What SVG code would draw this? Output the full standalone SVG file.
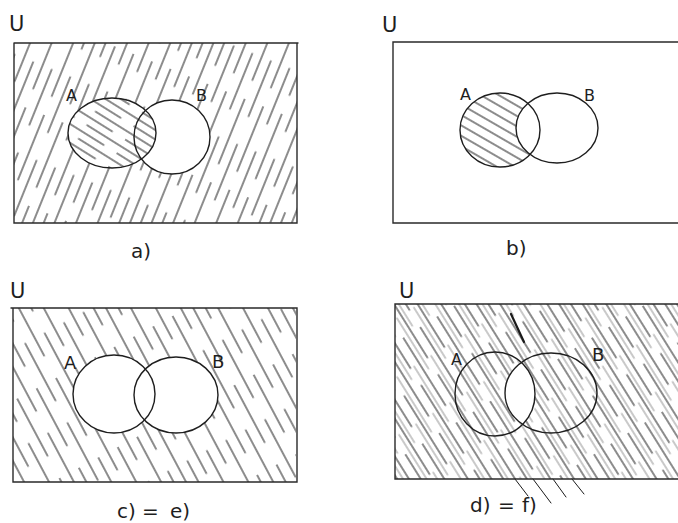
<svg xmlns="http://www.w3.org/2000/svg" width="678" height="523" viewBox="0 0 678 523">
<style>
.frame{fill:none;stroke:#2a2a2a;stroke-width:1.4;stroke-linecap:round}
.set{fill:none;stroke:#1e1e1e;stroke-width:1.4}
.lbl{font-family:"DejaVu Sans",sans-serif;fill:#1e1e1e}
.h{stroke:#1a1a1a;stroke-width:1;stroke-linecap:round}
.hg{stroke:#888;stroke-width:0.9;stroke-linecap:round}
</style>
<defs>
<pattern id="pOutA" patternUnits="userSpaceOnUse" width="20" height="90" patternTransform="rotate(22)">
<line class="h" x1="4" y1="0" x2="4" y2="90" stroke-dasharray="70 20"/>
<line class="h" x1="14" y1="0" x2="14" y2="90" stroke-dasharray="60 30" stroke-dashoffset="45"/>
</pattern>
<pattern id="pInA" patternUnits="userSpaceOnUse" width="90" height="16" patternTransform="rotate(32)">
<line class="h" x1="0" y1="4" x2="90" y2="4" stroke-dasharray="75 15"/>
<line class="h" x1="0" y1="12" x2="90" y2="12" stroke-dasharray="75 15" stroke-dashoffset="40"/>
</pattern>
<pattern id="pInB" patternUnits="userSpaceOnUse" width="70" height="18" patternTransform="rotate(30)">
<line class="h" x1="0" y1="4" x2="70" y2="4" stroke-width="1.5"/>
<line class="h" x1="0" y1="13" x2="70" y2="13" stroke-width="1.5"/>
</pattern>
<pattern id="pOutC" patternUnits="userSpaceOnUse" width="22" height="90" patternTransform="rotate(-28)">
<line class="h" x1="4" y1="0" x2="4" y2="90" stroke-dasharray="65 25"/>
<line class="h" x1="15" y1="0" x2="15" y2="90" stroke-dasharray="65 25" stroke-dashoffset="45"/>
</pattern>
<pattern id="pD" patternUnits="userSpaceOnUse" width="20" height="100" patternTransform="rotate(-32)">
<line class="h" x1="3" y1="0" x2="3" y2="100" stroke-dasharray="80 20"/>
<line class="hg" x1="8" y1="0" x2="8" y2="100" stroke-dasharray="60 40" stroke-dashoffset="20"/>
<line class="h" x1="13" y1="0" x2="13" y2="100" stroke-dasharray="80 20" stroke-dashoffset="50"/>
<line class="hg" x1="17" y1="0" x2="17" y2="100" stroke-dasharray="65 35" stroke-dashoffset="70"/>
</pattern>
<mask id="mA">
<rect x="14" y="43" width="283" height="180" fill="#fff"/>
<ellipse cx="112" cy="133" rx="44" ry="35" fill="#000"/>
<ellipse cx="172" cy="137" rx="38" ry="37" fill="#000"/>
</mask>
<clipPath id="cA"><ellipse cx="112" cy="133" rx="44" ry="35"/></clipPath>
<mask id="mB">
<ellipse cx="500" cy="130" rx="40" ry="37" fill="#fff"/>
<ellipse cx="557" cy="128" rx="41" ry="35" fill="#000"/>
</mask>
<mask id="mC">
<rect x="13" y="308" width="283" height="174" fill="#fff"/>
<ellipse cx="114" cy="394" rx="41" ry="39" fill="#000"/>
<ellipse cx="176" cy="395" rx="42" ry="38" fill="#000"/>
</mask>
<clipPath id="cDA"><ellipse cx="495" cy="394" rx="40" ry="42"/></clipPath>
<mask id="mD">
<rect x="395" y="304" width="283" height="175" fill="#fff"/>
<ellipse cx="551" cy="393" rx="46" ry="40" fill="#000" clip-path="url(#cDA)"/>
</mask>
</defs>

<g id="panel-a">
<rect x="14" y="43" width="283" height="180" fill="url(#pOutA)" mask="url(#mA)"/>
<rect x="60" y="90" width="110" height="90" fill="url(#pInA)" clip-path="url(#cA)"/>
<path class="frame" d="M14,43 H298 M14,43 V223 H297 V43"/>
<ellipse class="set" cx="112" cy="133" rx="44" ry="35"/>
<ellipse class="set" cx="172" cy="137" rx="38" ry="37"/>
<text class="lbl" x="9" y="31" font-size="21">U</text>
<text class="lbl" x="66" y="101" font-size="16">A</text>
<text class="lbl" x="196" y="101" font-size="16">B</text>
<text class="lbl" x="131" y="258" font-size="20">a)</text>
</g>

<g id="panel-b">
<rect x="455" y="90" width="90" height="80" fill="url(#pInB)" mask="url(#mB)"/>
<path class="frame" d="M678,42 H393 V223 H678"/>
<ellipse class="set" cx="500" cy="130" rx="40" ry="37"/>
<ellipse class="set" cx="557" cy="128" rx="41" ry="35"/>
<text class="lbl" x="382" y="32" font-size="21">U</text>
<text class="lbl" x="460" y="100" font-size="16">A</text>
<text class="lbl" x="584" y="101" font-size="16">B</text>
<text class="lbl" x="506" y="255" font-size="20">b)</text>
</g>

<g id="panel-c">
<rect x="13" y="308" width="283" height="174" fill="url(#pOutC)" mask="url(#mC)"/>
<path class="frame" d="M11,308 H297 V482 H13 V308"/>
<ellipse class="set" cx="114" cy="394" rx="41" ry="39"/>
<ellipse class="set" cx="176" cy="395" rx="42" ry="38"/>
<text class="lbl" x="10" y="298" font-size="21">U</text>
<text class="lbl" x="64" y="369" font-size="18">A</text>
<text class="lbl" x="212" y="368" font-size="18">B</text>
<text class="lbl" font-size="20" y="518"><tspan x="117">c)</tspan><tspan x="142">=</tspan><tspan x="170">e)</tspan></text>
</g>

<g id="panel-d">
<rect x="395" y="304" width="283" height="175" fill="url(#pD)" mask="url(#mD)"/>
<g class="h">
<line x1="515" y1="479" x2="528" y2="496"/>
<line x1="533" y1="479" x2="551" y2="503"/>
<line x1="553" y1="479" x2="566" y2="497"/>
<line x1="572" y1="479" x2="584" y2="494"/>
<line x1="511" y1="314" x2="524" y2="342" stroke-width="2.2"/>
</g>
<path class="frame" d="M678,304 H395 V479 H678"/>
<ellipse class="set" cx="495" cy="394" rx="40" ry="42"/>
<ellipse class="set" cx="551" cy="393" rx="46" ry="40"/>
<text class="lbl" x="399" y="298" font-size="21">U</text>
<text class="lbl" x="451" y="365" font-size="16">A</text>
<text class="lbl" x="592" y="361" font-size="18">B</text>
<text class="lbl" font-size="20" y="512"><tspan x="470">d)</tspan><tspan x="498">=</tspan><tspan x="522">f)</tspan></text>
</g>
</svg>
